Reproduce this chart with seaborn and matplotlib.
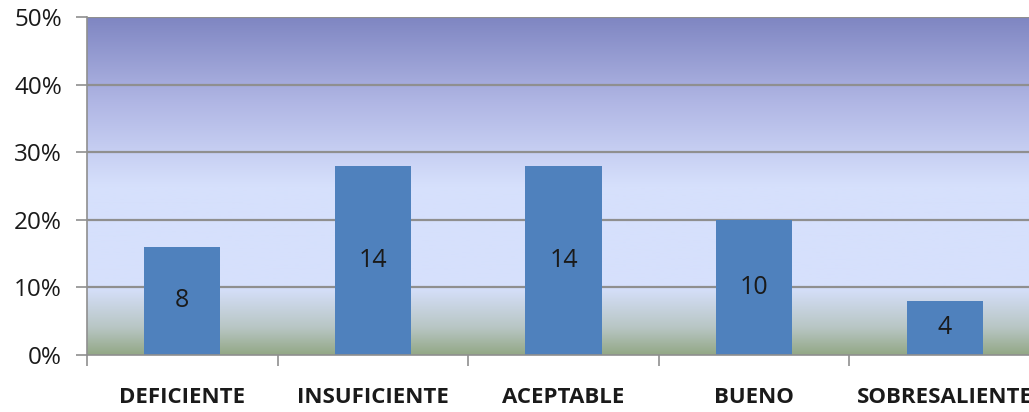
import numpy as np
import pandas as pd
import matplotlib
matplotlib.use("Agg")
import matplotlib.pyplot as plt
import seaborn as sns
from matplotlib.colors import LinearSegmentedColormap

categories = ["DEFICIENTE", "INSUFICIENTE", "ACEPTABLE", "BUENO", "SOBRESALIENTE"]
counts = [8, 14, 14, 10, 4]
percents = [16, 28, 28, 20, 8]
y_ticks = [0, 10, 20, 30, 40, 50]

df = pd.DataFrame({"categoria": categories, "porcentaje": percents, "n": counts})

sns.set_style("white")
plt.rcParams["font.family"] = ["Open Sans", "DejaVu Sans"]

fig = plt.figure(figsize=(10.29, 4.12), dpi=100)
ax = fig.add_axes([87 / 1029, 57 / 412, 953 / 1029, 338 / 412])

# background gradient (bottom -> top)
cmap = LinearSegmentedColormap.from_list(
    "fondo",
    [(0.0, "#93a886"), (0.08, "#b8c6c4"), (0.2, "#d6e0fc"),
     (0.5, "#d6e0fc"), (0.75, "#b0b6e4"), (1.0, "#7f86c2")])
grad = np.linspace(0, 1, 256).reshape(-1, 1)
ax.imshow(grad, cmap=cmap, aspect="auto", origin="lower",
          extent=[-0.5, 4.5, 0, 50], zorder=0)

for t in y_ticks[1:]:
    ax.axhline(t, color="#8f8f8f", lw=1.6, zorder=1)

sns.barplot(data=df, x="categoria", y="porcentaje", color="#4f81bd",
            saturation=1, width=0.4, linewidth=0, ax=ax, zorder=2)

for i, (p, n) in enumerate(zip(percents, counts)):
    ax.text(i, p / 2, str(n), ha="center", va="center", fontsize=18,
            color="#1a1a1a", zorder=3)

ax.set_xlim(-0.5, 4.5)
ax.set_ylim(0, 50)
ax.set_yticks(y_ticks)
ax.set_yticklabels([f"{t}%" for t in y_ticks], fontsize=17.5, color="#1a1a1a")
ax.set_xlabel("")
ax.set_ylabel("")
ax.tick_params(axis="y", left=True, length=8, width=1.2, color="#8f8f8f", pad=10)
ax.tick_params(axis="x", bottom=False, length=0, pad=23)
for lbl in ax.get_xticklabels():
    lbl.set_fontsize(16)
    lbl.set_fontweight("bold")
    lbl.set_color("#1a1a1a")

# category boundary ticks
ax.set_xticks([-0.5, 0.5, 1.5, 2.5, 3.5], minor=True)
ax.tick_params(axis="x", which="minor", bottom=True, length=8, width=1.2,
               color="#8f8f8f", direction="out")

for side in ["top", "right"]:
    ax.spines[side].set_visible(False)
ax.spines["left"].set_color("#8f8f8f")
ax.spines["left"].set_linewidth(1.2)
ax.spines["bottom"].set_color("#8f8f8f")
ax.spines["bottom"].set_linewidth(1.2)

fig.savefig("out.png", dpi=100)
plt.close(fig)
